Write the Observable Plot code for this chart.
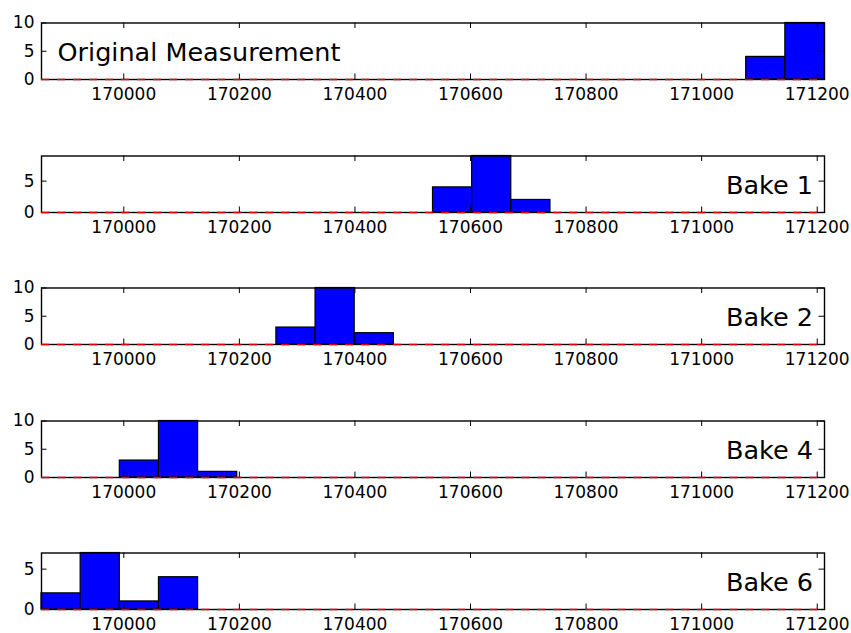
<!DOCTYPE html>
<html><head><meta charset="utf-8">
<script src="https://cdn.jsdelivr.net/npm/d3@7"></script>
<script src="https://cdn.jsdelivr.net/npm/@observablehq/plot@0.6"></script>
<style>body{margin:0;background:#fff} #chart svg{display:block}</style>
</head><body><div id="chart"></div>
<script>
// Shared histogram bin edges (20 bins across the full range)
const binEdges = [169857.6, 169925.35, 169993.1, 170060.85, 170128.6, 170196.35, 170264.1, 170331.85,
  170399.6, 170467.35, 170535.1, 170602.85, 170670.6, 170738.35, 170806.1, 170873.85, 170941.6,
  171009.35, 171077.1, 171144.85, 171212.6];

const panelNames = ["Original Measurement", "Bake 1", "Bake 2", "Bake 4", "Bake 6"];
const labelSides = ["left", "right", "right", "right", "right"];

// Counts per bin
const countsOriginal = [0,0,0,0,0,0,0,0,0,0,0,0,0,0,0,0,0,0,4,10];
const countsBake1    = [0,0,0,0,0,0,0,0,0,0,4,9,2,0,0,0,0,0,0,0];
const countsBake2    = [0,0,0,0,0,0,3,10,2,0,0,0,0,0,0,0,0,0,0,0];
const countsBake4    = [0,0,3,10,1,0,0,0,0,0,0,0,0,0,0,0,0,0,0,0];
const countsBake6    = [2,7,1,4,0,0,0,0,0,0,0,0,0,0,0,0,0,0,0,0];
const panelCounts = [countsOriginal, countsBake1, countsBake2, countsBake4, countsBake6];

const yMax = [10, 9, 10, 10, 7];
const yTicks = [[0,5,10],[0,5],[0,5,10],[0,5,10],[0,5]];
const xTicks = [170000, 170200, 170400, 170600, 170800, 171000, 171200];

const W = 851, mL = 41, mR = 27, mT = 22.5, frameH = 56.5;
const heights = [132.5, 132.5, 132.5, 132.5, 103];
const tickLen = 5.5;
const innerW = W - mL - mR;

const container = document.getElementById("chart");

panelCounts.forEach((counts, i) => {
  const bins = counts.map((c, k) => ({x1: binEdges[k], x2: binEdges[k + 1], count: c})).filter(d => d.count > 0);
  const H = heights[i];
  const mB = H - mT - frameH;
  const left = labelSides[i] === "left";
  const svg = Plot.plot({
    width: W,
    height: H,
    marginLeft: mL,
    marginRight: mR,
    marginTop: mT,
    marginBottom: mB,
    style: {fontFamily: "DejaVu Sans", fontSize: "17px", color: "black", background: "white", overflow: "visible"},
    x: {domain: [binEdges[0], binEdges[binEdges.length - 1]]},
    y: {domain: [0, yMax[i]]},
    marks: [
      Plot.rectY(bins, {x1: "x1", x2: "x2", y: "count", fill: "#0000ff", stroke: "black", strokeWidth: 1.2}),
      Plot.tickX(xTicks, {x: d => d, stroke: "black", strokeWidth: 1, insetTop: frameH - tickLen}),
      Plot.tickX(xTicks, {x: d => d, stroke: "black", strokeWidth: 1, insetBottom: frameH - tickLen}),
      Plot.tickY(yTicks[i], {y: d => d, stroke: "black", strokeWidth: 1, insetRight: innerW - tickLen}),
      Plot.tickY(yTicks[i], {y: d => d, stroke: "black", strokeWidth: 1, insetLeft: innerW - tickLen}),
      Plot.axisX(xTicks, {tickSize: 0, tickPadding: 8, tickFormat: d => String(d), label: null, fontSize: 17}),
      Plot.axisY(yTicks[i], {tickSize: 0, tickPadding: 7, label: null, fontSize: 17}),
      Plot.frame({stroke: "black", strokeWidth: 1.4}),
      Plot.ruleY([0], {stroke: "#e00000", strokeWidth: 1.4, strokeDasharray: "8,8"}),
      Plot.text([panelNames[i]], {
        text: d => d,
        frameAnchor: left ? "top-left" : "top-right",
        textAnchor: left ? "start" : "end",
        lineAnchor: "middle",
        dx: left ? 16 : -11.5,
        dy: 30,
        fontSize: 25.5,
        fill: "black"
      })
    ]
  });
  container.appendChild(svg);
});
</script>
</body></html>
